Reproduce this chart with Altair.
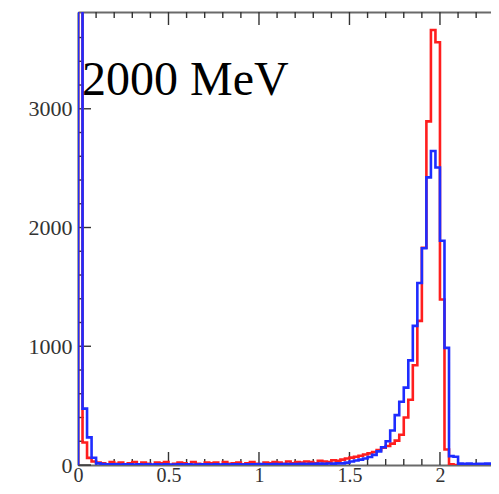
import altair as alt
import pandas as pd

# ---------------- data ----------------
BIN_WIDTH = 0.025          # histogram bin width; bins start at 0

blue_counts = [
    6000, 475, 233, 61,
    14, 8, 6, 5, 6, 4, 5, 6, 4, 5,
    3, 5, 4, 6, 4, 5, 3, 4, 5, 4,
    5, 3, 4, 6, 5, 4, 5, 3, 5, 4,
    6, 5, 4, 5, 6, 5, 7, 5, 6, 7,
    6, 8, 7, 9, 8, 10, 9, 11, 10, 12,
    11, 13, 12, 14,
    14, 20, 30, 38, 45, 55, 68, 85, 115, 150, 200, 290,
    420, 533, 652, 881, 1172, 1533, 1825, 2422, 2644, 2506,
    1889, 986, 75, 70,
    12, 10, 12, 9, 11, 10, 12, 10, 9, 11,
]

red_counts = [
    5000, 190, 60, 30,
    20, 15, 0, 25, 10, 20, 0, 15, 25, 5,
    20, 10, 0, 20, 15, 25, 0, 10, 20, 15,
    5, 25, 10, 0, 20, 15, 20, 0, 25, 10,
    15, 20, 5, 15, 25, 10, 0, 20, 15, 25,
    20, 10, 30, 15, 25, 20, 30, 25, 15, 35,
    30, 25, 40, 35,
    45, 55, 62, 70, 78, 88, 98, 110, 125, 145, 160, 180,
    205, 255, 400, 550, 840, 1214, 1830, 2894, 3663, 3560,
    1394, 130, 5, 0,
    0, 0, 0, 0, 0, 0, 0, 0, 0, 0,
]

x_major = [0, 0.5, 1, 1.5, 2]
x_minor = [0.1, 0.2, 0.3, 0.4, 0.6, 0.7, 0.8, 0.9, 1.1, 1.2, 1.3, 1.4,
           1.6, 1.7, 1.8, 1.9, 2.1, 2.2, 2.3]
y_major = [0, 1000, 2000, 3000]
y_minor = [200, 400, 600, 800, 1200, 1400, 1600, 1800, 2200, 2400, 2600,
           2800, 3200, 3400, 3600]
label_text = "2000 MeV"

# ---------------- layout / style ----------------
X_DOMAIN = [0, 2.282]
Y_DOMAIN = [0, 3815]
W, H = 413, 453
RED = "#ff1e1e"
BLUE = "#1e2cff"
AXIS = "#6a6a6a"
TICK = "#333333"
FONT = "Liberation Serif"


def step_frame(counts):
    rows = [{"i": 0, "x": 0.0, "y": 0}]
    for k, c in enumerate(counts):
        rows.append({"i": k + 1, "x": k * BIN_WIDTH, "y": c})
    rows.append({"i": len(counts) + 1, "x": len(counts) * BIN_WIDTH, "y": 0})
    return pd.DataFrame(rows)


xs = alt.Scale(domain=X_DOMAIN, nice=False, zero=False)
ys = alt.Scale(domain=Y_DOMAIN, nice=False, zero=False)

red = alt.Chart(step_frame(red_counts)).mark_line(
    interpolate="step-after", color=RED, strokeWidth=2.6, clip=True
).encode(
    x=alt.X("x:Q", scale=xs, axis=alt.Axis(
        values=x_major, format="~f", title=None, ticks=False, tickSize=0,
        labelFont=FONT, labelFontSize=20, labelColor=TICK, labelPadding=0,
        domainColor=AXIS, domainWidth=2.2, grid=False, labelFlush=False)),
    y=alt.Y("y:Q", scale=ys, axis=alt.Axis(
        values=y_major, format="d", title=None, ticks=False, tickSize=0,
        labelFont=FONT, labelFontSize=22, labelColor=TICK, labelPadding=6,
        domainColor=AXIS, domainWidth=2.2, grid=False, labelFlush=False)),
    order="i:Q",
)

blue = alt.Chart(step_frame(blue_counts)).mark_line(
    interpolate="step-after", color=BLUE, strokeWidth=2.6, clip=True
).encode(
    x=alt.X("x:Q", scale=xs, axis=alt.Axis(
        orient="top", labels=False, ticks=False, tickSize=0, title=None,
        domainColor=AXIS, domainWidth=2.2, grid=False)),
    y=alt.Y("y:Q", scale=ys, axis=None),
    order="i:Q",
)

xmaj = pd.DataFrame({"v": x_major})
xmin = pd.DataFrame({"v": x_minor})
ymaj = pd.DataFrame({"v": y_major})
ymin = pd.DataFrame({"v": y_minor})


def xticks(df, y0, y1):
    return alt.Chart(df).mark_rule(color=TICK, strokeWidth=1.4, clip=True).encode(
        x=alt.X("v:Q", scale=xs, axis=None), y=alt.value(y0), y2=alt.value(y1))


def yticks(df, x0, x1):
    return alt.Chart(df).mark_rule(color=TICK, strokeWidth=1.4).encode(
        y=alt.Y("v:Q", scale=ys, axis=None), x=alt.value(x0), x2=alt.value(x1))


ticks = [
    xticks(xmaj, H, H - 13), xticks(xmin, H, H - 6),
    xticks(xmaj, 0, 13), xticks(xmin, 0, 6),
    yticks(ymaj, 0, 13), yticks(ymin, 0, 6),
]

label = alt.Chart(pd.DataFrame({"t": [label_text]})).mark_text(
    align="left", baseline="alphabetic", font=FONT, fontSize=48, color="black"
).encode(x=alt.value(4), y=alt.value(83), text="t:N")

chart = alt.layer(*ticks, red, blue, label).resolve_axis(
    x="independent", y="independent"
).properties(
    width=W, height=H,
    autosize=alt.AutoSizeParams(type="none"),
    padding={"left": 70, "top": 4, "right": 0, "bottom": 21},
).configure_view(stroke=None).configure(background="white")

chart.save("out.html", embed_options={"renderer": "svg", "actions": False})
